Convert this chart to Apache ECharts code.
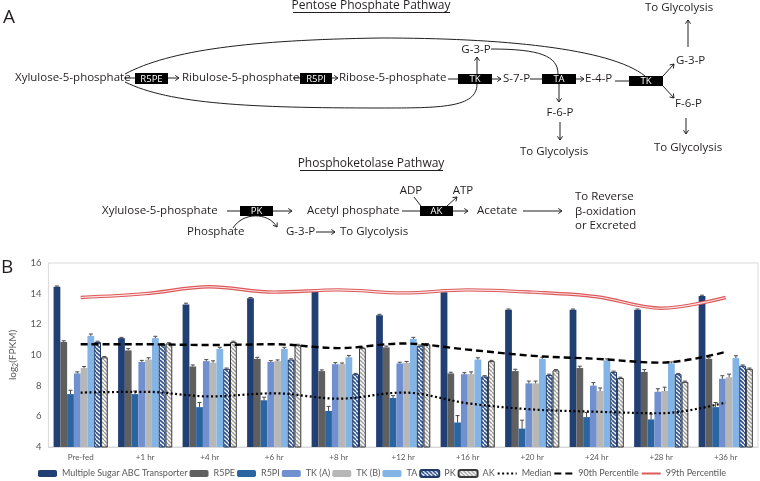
<!DOCTYPE html>
<html><head><meta charset="utf-8">
<script src="https://cdn.jsdelivr.net/npm/echarts@6/dist/echarts.min.js"></script>
<style>html,body{margin:0;padding:0;background:#fff}#c{width:760px;height:481px}</style>
</head><body><div id="c"></div>
<script>
// ---------- DATA ----------
const categories = ['Pre-fed','+1 hr','+4 hr','+6 hr','+8 hr','+12 hr','+16 hr','+20 hr','+24 hr','+28 hr','+36 hr'];
const yTicks = [4, 6, 8, 10, 12, 14, 16];
const abc  = [14.45, 11.1, 13.3, 13.7, 14.15, 12.6, 14.1, 12.95, 12.95, 12.95, 13.85];
const r5pe = [10.85, 10.3, 9.25, 9.75, 8.95, 10.5, 8.8, 8.95, 9.15, 8.9, 9.75];
const r5pi = [7.45, 7.45, 6.6, 7.05, 6.35, 7.2, 5.6, 5.2, 5.95, 5.8, 6.6];
const tkA  = [8.8, 9.55, 9.6, 9.55, 9.4, 9.45, 8.75, 8.15, 8.0, 7.6, 8.45];
const tkB  = [9.15, 9.7, 9.5, 9.6, 9.4, 9.5, 8.75, 8.15, 7.65, 7.65, 8.55];
const ta   = [11.25, 11.1, 10.4, 10.4, 9.85, 11.05, 9.7, 9.75, 9.65, 9.45, 9.8];
const pk   = [10.85, 10.7, 9.1, 9.7, 8.75, 10.6, 8.6, 8.7, 8.9, 8.75, 9.3];
const ak   = [9.85, 10.75, 10.85, 10.65, 10.45, 10.7, 9.6, 9.0, 8.5, 8.25, 9.1];
const errABC  = [0.05, 0.05, 0.08, 0.05, 0.05, 0.05, 0.05, 0.05, 0.05, 0.05, 0.05];
const errR5PE = [0.08, 0.12, 0.1, 0.1, 0.08, 0.08, 0.08, 0.12, 0.12, 0.15, 0.08];
const errR5PI = [0.25, 0.2, 0.3, 0.2, 0.3, 0.15, 0.45, 0.55, 0.3, 0.35, 0.3];
const errTKA  = [0.1, 0.1, 0.1, 0.08, 0.1, 0.08, 0.1, 0.15, 0.2, 0.2, 0.2];
const errTKB  = [0.1, 0.12, 0.12, 0.08, 0.08, 0.08, 0.15, 0.15, 0.2, 0.25, 0.2];
const errTA   = [0.12, 0.12, 0.1, 0.1, 0.12, 0.1, 0.12, 0.1, 0.1, 0.1, 0.15];
const errPK   = [0.05, 0.05, 0.05, 0.05, 0.05, 0.05, 0.05, 0.05, 0.05, 0.05, 0.05];
const errAK   = [0.05, 0.05, 0.05, 0.05, 0.05, 0.05, 0.05, 0.05, 0.05, 0.05, 0.05];
const median = [7.55, 7.6, 7.3, 7.5, 7.15, 7.55, 6.85, 6.45, 6.3, 6.2, 6.9];
const p90    = [10.7, 10.7, 10.65, 10.7, 10.45, 10.75, 10.35, 9.95, 9.75, 9.5, 10.2];
const p99    = [13.75, 14.0, 14.45, 14.1, 14.25, 14.05, 14.25, 14.1, 13.8, 13.05, 13.75];
const barNames = ['Multiple Sugar ABC Transporter','R5PE','R5PI','TK (A)','TK (B)','TA','PK','AK'];
const lineNames = ['Median','90th Percentile','99th Percentile'];

// ---------- STYLE ----------
const CAT_GAP = 0.16;
const CF = 'Lato, "Open Sans", sans-serif';
const DF = '"Open Sans", sans-serif';
const INK = '#231f20';

function stripes(fg, size, lw) {
  const c = document.createElement('canvas');
  c.width = size; c.height = size;
  const g = c.getContext('2d');
  g.fillStyle = '#fff'; g.fillRect(0, 0, size, size);
  g.strokeStyle = fg; g.lineWidth = lw;
  for (let k = -size; k <= size; k += size) {
    g.beginPath(); g.moveTo(k, 0); g.lineTo(k + size, size); g.stroke();
  }
  return { image: c, repeat: 'repeat' };
}

const barValues = [abc, r5pe, r5pi, tkA, tkB, ta, pk, ak];
const barErrs = [errABC, errR5PE, errR5PI, errTKA, errTKB, errTA, errPK, errAK];
const barStyles = [
  { color: '#223f74' },
  { color: '#5f5f5f' },
  { color: '#2a65a2' },
  { color: '#7090d0' },
  { color: '#b7b7b7' },
  { color: '#82b4e6' },
  { color: stripes('#2d4f8e', 4, 1.6), borderColor: '#1f3864', borderWidth: 1 },
  { color: stripes('#9c9c9c', 4, 1.4), borderColor: '#3a3a3a', borderWidth: 1 }
];

const series = barValues.map((vals, k) => ({
  type: 'bar', name: barNames[k], data: vals,
  barGap: '0%', barCategoryGap: (CAT_GAP * 100) + '%',
  itemStyle: barStyles[k], z: 2
}));

const errData = [];
barErrs.forEach((arr, k) => arr.forEach((e, i) => errData.push([i, k, barValues[k][i], e])));
series.push({
  type: 'custom', name: 'err', silent: true, z: 3,
  data: errData, encode: { x: 0, y: 2 },
  renderItem: function (params, api) {
    const cat = api.value(0), k = api.value(1), v = api.value(2), e = api.value(3);
    const bw = api.size([1, 0])[0];
    const total = bw * (1 - CAT_GAP);
    const w = total / 8;
    const cx = api.coord([cat, v])[0] - total / 2 + (k + 0.5) * w;
    const y0 = api.coord([cat, v])[1];
    const y1 = api.coord([cat, v + e])[1];
    const st = { stroke: '#4a4a4a', lineWidth: 1 };
    return { type: 'group', children: [
      { type: 'line', shape: { x1: cx, y1: y0, x2: cx, y2: y1 }, style: st },
      { type: 'line', shape: { x1: cx - 2, y1: y1, x2: cx + 2, y2: y1 }, style: st }
    ]};
  }
});

const hideSym = { opacity: 0, color: 'rgba(0,0,0,0)' };
series.push({ type: 'line', name: 'Median', data: median, symbol: 'none', smooth: 0.35, z: 5,
  lineStyle: { color: '#000', width: 2.2, type: [2, 2.5] }, itemStyle: { color: '#000' } });
series.push({ type: 'line', name: '90th Percentile', data: p90, symbol: 'none', smooth: 0.35, z: 5,
  lineStyle: { color: '#000', width: 2.4, type: [7, 4] }, itemStyle: { color: '#000' } });
series.push({ type: 'line', name: '99th Percentile', data: p99, symbol: 'none', smooth: 0.35, z: 5,
  lineStyle: { color: '#dd5a5a', width: 3.4 }, itemStyle: { color: '#dd5a5a' } });
series.push({ type: 'line', name: '99inner', data: p99, symbol: 'none', smooth: 0.35, z: 6, silent: true,
  lineStyle: { color: '#fbe3e3', width: 1.1 }, itemStyle: { color: '#fbe3e3' } });

// ---------- DIAGRAM HELPERS ----------
const G = [];
function T(x, y, s, o) {
  o = o || {};
  G.push({ type: 'text', x: x, y: y, silent: true, style: { text: s, fill: INK,
    fontSize: o.size || 11.5, fontFamily: o.family || DF, fontWeight: o.weight || 'normal',
    align: o.align || 'left', verticalAlign: 'middle' } });
}
function L(x1, y1, x2, y2) {
  G.push({ type: 'line', silent: true, shape: { x1, y1, x2, y2 }, style: { stroke: INK, lineWidth: 1 } });
}
function H(x, y, a) {
  const s = 4.5, d = 0.6;
  G.push({ type: 'polyline', silent: true, shape: { points: [
    [x - s * Math.cos(a - d), y - s * Math.sin(a - d)], [x, y], [x - s * Math.cos(a + d), y - s * Math.sin(a + d)]] },
    style: { stroke: INK, fill: 'none', lineWidth: 1 } });
}
function A(x1, y1, x2, y2) { L(x1, y1, x2, y2); H(x2, y2, Math.atan2(y2 - y1, x2 - x1)); }
function BZ(x1, y1, c1x, c1y, c2x, c2y, x2, y2, arrow) {
  G.push({ type: 'bezierCurve', silent: true, shape: { x1, y1, cpx1: c1x, cpy1: c1y, cpx2: c2x, cpy2: c2y, x2, y2 },
    style: { stroke: INK, fill: 'none', lineWidth: 1 } });
  if (arrow) H(x2, y2, Math.atan2(y2 - c2y, x2 - c2x));
}
function BOX(x, y, w, h, label) {
  G.push({ type: 'rect', silent: true, shape: { x, y, width: w, height: h }, style: { fill: '#000' } });
  G.push({ type: 'text', silent: true, x: x + w / 2, y: y + h / 2 + 0.5, style: { text: label, fill: '#fff',
    fontSize: 9.5, fontFamily: DF, align: 'center', verticalAlign: 'middle' } });
}
function TITLE(cx, y, s, x1, x2) { T(cx, y, s, { align: 'center', size: 12 }); L(x1, y + 6.5, x2, y + 6.5); }

// Panel labels
T(3, 18, 'A', { size: 19 });
T(1, 268, 'B', { size: 19 });

// Pentose Phosphate Pathway
TITLE(371, 6, 'Pentose Phosphate Pathway', 293, 450);
T(15, 78, 'Xylulose-5-phosphate');
L(124, 78, 135, 78); BOX(135, 73, 33, 11, 'R5PE'); A(168, 78, 179, 78);
T(182, 78, 'Ribulose-5-phosphate');
L(293, 78, 300, 78); BOX(300, 73, 32, 11, 'R5PI'); A(332, 78, 338, 78);
T(339, 78, 'Ribose-5-phosphate');
L(448, 79, 458, 79); BOX(458, 74, 34, 10, 'TK'); A(492, 79, 501, 79);
T(503, 79, 'S-7-P');
L(530, 79, 542, 79); BOX(542, 74, 34, 10, 'TA'); A(576, 79, 584, 79);
T(585, 79, 'E-4-P');
L(615, 81, 629, 81); BOX(629, 76, 34, 10, 'TK');
A(663, 76, 674, 64); T(676, 61, 'G-3-P');
A(663, 86, 674, 98); T(675, 104, 'F-6-P');
A(688, 47, 688, 20); T(679, 8, 'To Glycolysis', { align: 'center' });
A(686, 118, 686, 134); T(688, 148, 'To Glycolysis', { align: 'center' });
A(477, 74, 477, 57); T(476, 50, 'G-3-P', { align: 'center' });
BZ(491, 49, 540, 49, 558, 56, 558, 74, false);
A(559, 84, 559, 102); T(560, 113, 'F-6-P', { align: 'center' });
A(560, 122, 560, 140); T(554, 152, 'To Glycolysis', { align: 'center' });
BZ(125, 74, 170, 50, 250, 40, 380, 38, false);
BZ(380, 38, 500, 38, 610, 48, 645, 76, false);
BZ(125, 82, 170, 104, 250, 108, 380, 108, false);
BZ(380, 108, 440, 108, 477, 108, 477, 84, false);

// Phosphoketolase Pathway
TITLE(371, 164, 'Phosphoketolase Pathway', 300, 443);
T(102, 211, 'Xylulose-5-phosphate');
L(227, 211, 240, 211); BOX(240, 206, 33, 10, 'PK'); A(273, 211, 292, 211);
T(307, 211, 'Acetyl phosphate');
T(187, 232, 'Phosphate');
BZ(233, 228, 243, 212, 268, 212, 277, 227, true);
T(286, 232, 'G-3-P'); A(316, 232, 335, 232); T(340, 232, 'To Glycolysis');
L(402, 211, 420, 211); BOX(420, 206, 33, 10, 'AK'); A(453, 211, 468, 211);
T(477, 211, 'Acetate');
T(411, 191, 'ADP', { align: 'center' }); L(414, 197, 421, 206);
T(463, 191, 'ATP', { align: 'center' }); A(447, 206, 457, 197);
A(523, 211, 562, 211);
T(575, 197, 'To Reverse'); T(575, 212, 'β-oxidation'); T(575, 226, 'or Excreted');

// ---------- CHART ----------
const legendData = barNames.map(n => ({ name: n })).concat(lineNames.map(n => ({ name: n, itemStyle: hideSym })));
const chart = echarts.init(document.getElementById('c'), null, { renderer: 'canvas' });
chart.setOption({
  animation: false,
  backgroundColor: '#fff',
  textStyle: { fontFamily: CF },
  grid: { left: 38, right: 2, top: 263, bottom: 34, show: true, borderColor: '#d9d9d9', borderWidth: 1 },
  legend: {
    data: legendData, top: 469, left: 38, width: 722, padding: 0, orient: 'horizontal',
    itemWidth: 19, itemHeight: 7, itemGap: 2,
    textStyle: { fontSize: 9, color: '#595959', fontFamily: CF }
  },
  xAxis: {
    type: 'category', data: categories,
    axisLine: { lineStyle: { color: '#d9d9d9' } }, axisTick: { show: false },
    axisLabel: { fontSize: 8, color: '#595959', margin: 6, interval: 0 }
  },
  yAxis: {
    type: 'value', min: yTicks[0], max: yTicks[yTicks.length - 1], interval: 2,
    splitLine: { show: false }, axisLine: { show: false }, axisTick: { show: false },
    axisLabel: { fontSize: 9.5, color: '#595959', margin: 7 },
    name: 'log{s|2}(FPKM)', nameLocation: 'middle', nameGap: 22, nameRotate: 90,
    nameTextStyle: { fontSize: 10, color: '#595959', rich: { s: { fontSize: 7, color: '#595959', verticalAlign: 'bottom', padding: [6, 0, 0, 0] } } }
  },
  series: series,
  graphic: { elements: G }
});
</script></body></html>
